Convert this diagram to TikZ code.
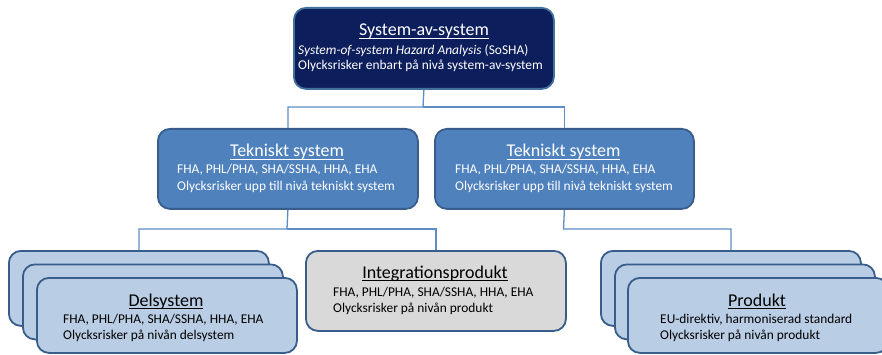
\documentclass[tikz,border=0pt]{standalone}
\usepackage{fontspec}
\setmainfont{Carlito}
\definecolor{navy}{RGB}{13,30,92}
\definecolor{navyedge}{RGB}{65,113,156}
\definecolor{midblue}{RGB}{79,129,189}
\definecolor{edgeblue}{RGB}{56,93,138}
\definecolor{lightblue}{RGB}{185,205,229}
\definecolor{lightgrey}{RGB}{217,217,217}
\definecolor{connblue}{RGB}{95,140,196}
\newcommand\myul[1]{\setbox0\hbox{#1}\rlap{\rule[-3.2pt]{\wd0}{1pt}}\box0}
\begin{document}
\begin{tikzpicture}[x=1pt,y=-1pt,
  box/.style={draw=edgeblue,line width=1.8pt,rounded corners=12pt,anchor=north west,inner sep=0pt,minimum width=260pt},
  conn/.style={draw=connblue,line width=1.3pt},
  ttl/.style={anchor=base,inner sep=0pt,font=\fontsize{18}{20}\selectfont},
  bdy/.style={anchor=base west,inner sep=0pt,align=left,font=\fontsize{13.4}{16.5}\selectfont}]
\clip (0,0) rectangle (882,355);
% top
\node[box,fill=navy,draw=navyedge,minimum height=81pt] (top) at (293,7) {};
\node[ttl,text=white] (topt) at (424,36) {\myul{System-av-system}};
\node[bdy,text=white] (topb1) at (298,54.5) {\textit{System-of-system Hazard Analysis} (SoSHA)};
\node[bdy,text=white] (topb2) at (298,70) {Olycksrisker enbart på nivå system-av-system};
% tekniskt
\node[box,fill=midblue,minimum height=80pt] (tek1) at (157,128) {};
\node[ttl,text=white] (tek1t) at (287,156.5) {\myul{Tekniskt system}};
\node[bdy,text=white] (tek1b1) at (177,174) {FHA, PHL/PHA, SHA/SSHA, HHA, EHA};
\node[bdy,text=white] (tek1b2) at (177,190.5) {Olycksrisker upp till nivå tekniskt system};
\node[box,fill=midblue,minimum height=80pt,minimum width=259pt] (tek2) at (434,128) {};
\node[ttl,text=white] (tek2t) at (563.5,156.5) {\myul{Tekniskt system}};
\node[bdy,text=white] (tek2b1) at (455,174) {FHA, PHL/PHA, SHA/SSHA, HHA, EHA};
\node[bdy,text=white] (tek2b2) at (455,190.5) {Olycksrisker upp till nivå tekniskt system};
% delsystem stack
\node[box,fill=lightblue,minimum height=75pt] (del3) at (8,250) {};
\node[box,fill=lightblue,minimum height=75pt] (del2) at (22,263.5) {};
\node[box,fill=lightblue,minimum height=75pt] (del1) at (36,277) {};
\node[ttl] (delt) at (166,306) {\myul{Delsystem}};
\node[bdy] (delb1) at (63,323) {FHA, PHL/PHA, SHA/SSHA, HHA, EHA};
\node[bdy] (delb2) at (63,339.5) {Olycksrisker på nivån delsystem};
% integration
\node[box,fill=lightgrey,minimum height=80pt] (int) at (305,250) {};
\node[ttl] (intt) at (435,278) {\myul{Integrationsprodukt}};
\node[bdy] (intb1) at (333,296) {FHA, PHL/PHA, SHA/SSHA, HHA, EHA};
\node[bdy] (intb2) at (333,312.5) {Olycksrisker på nivån produkt};
% produkt stack
\node[box,fill=lightblue,minimum height=75pt] (pro3) at (600,250) {};
\node[box,fill=lightblue,minimum height=75pt] (pro2) at (614,263.5) {};
\node[box,fill=lightblue,minimum height=75pt] (pro1) at (627,277) {};
\node[ttl] (prot) at (757,306) {\myul{Produkt}};
\node[bdy] (prob1) at (660,323) {EU-direktiv, harmoniserad standard};
\node[bdy] (prob2) at (660,339.5) {Olycksrisker på nivån produkt};
% connectors
\coordinate (j1) at (423,107);
\coordinate (j2) at (287,229);
\coordinate (j3) at (563.5,229);
\draw[conn] (top.south) -- (j1) -| (tek1.north);
\draw[conn] (j1) -| (tek2.north);
\draw[conn] (tek1.south) -- (j2) -| (del3.north);
\draw[conn] (j2) -| (int.north);
\draw[conn] (tek2.south) -- (j3) -| (pro3.north);
\end{tikzpicture}
\end{document}
